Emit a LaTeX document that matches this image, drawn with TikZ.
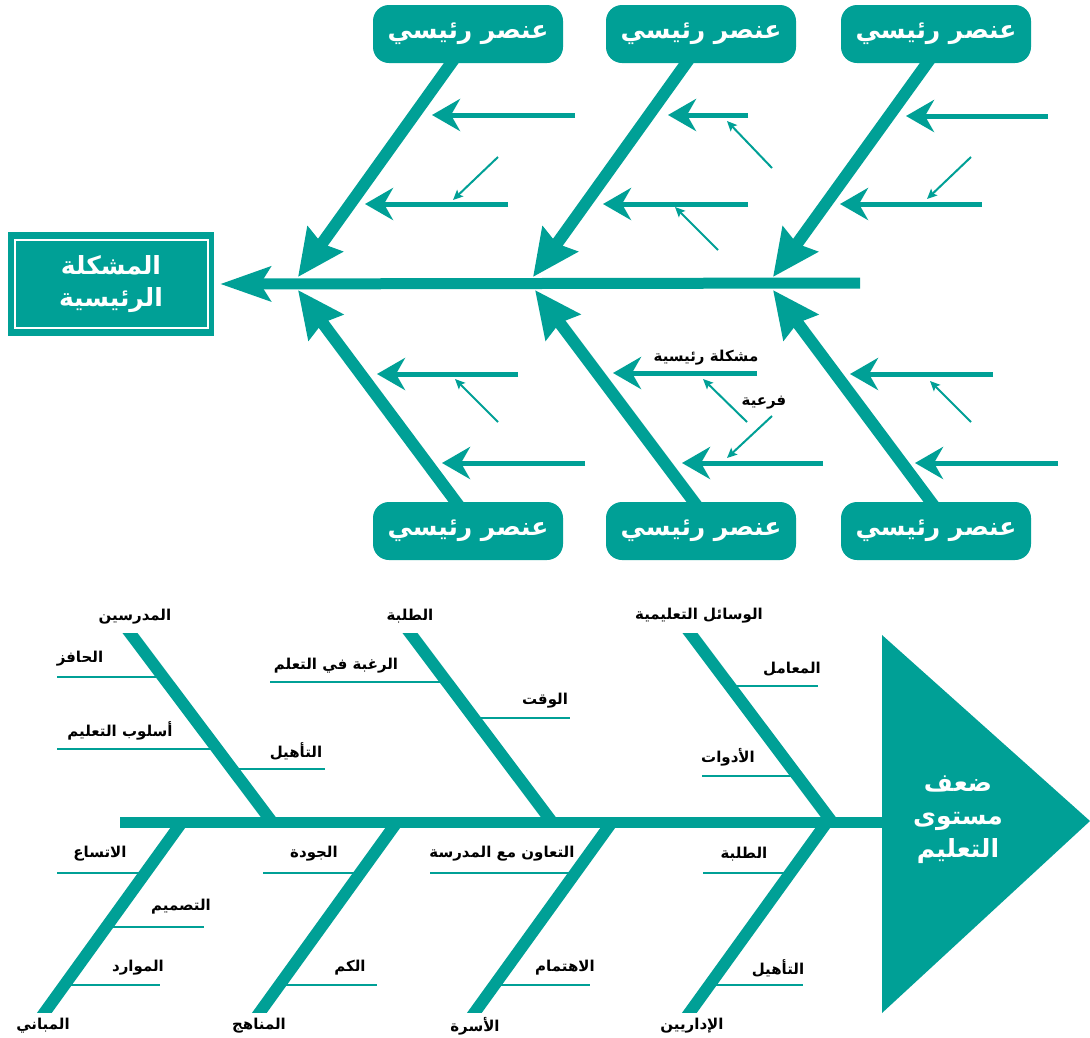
\documentclass[tikz,border=0pt]{standalone}
\usepackage{fontspec}
\newfontfamily\arabicfont[Script=Arabic]{DejaVu Sans}
\TeXXeTstate=1
\usetikzlibrary{arrows.meta}
\definecolor{fishteal}{RGB}{0,160,150}
\newcommand{\arTxt}[1]{\beginR #1\endR}
\begin{document}
\begin{tikzpicture}[x=1pt,y=-1pt,
  probbox/.style={fill=fishteal,minimum width=206pt,minimum height=104pt,inner sep=0pt,align=center,text=white,font=\arabicfont\bfseries\fontsize{25}{32}\selectfont},
  headbox/.style={fill=fishteal,rounded corners=16pt,minimum width=190pt,minimum height=58pt,inner sep=0pt,text=white,font=\arabicfont\bfseries\fontsize{25}{28}\selectfont},
  spine/.style={draw=fishteal,line width=11pt,-{Stealth[length=50pt,width=34pt,inset=10pt]},shorten >=6pt},
  bigrib/.style={draw=fishteal,line width=12pt,-{Stealth[length=46pt,width=42pt,inset=5pt]}},
  smallrib/.style={draw=fishteal,line width=5pt,-{Stealth[length=28pt,width=32pt,inset=9pt]}},
  thinrib/.style={draw=fishteal,line width=2pt,-{Stealth[length=10pt,width=9pt,inset=2pt]}},
  bspine/.style={draw=fishteal,line width=11pt},
  bone/.style={draw=fishteal,line width=12pt,shorten <=-12pt},
  twig/.style={draw=fishteal,line width=2.5pt},
  lbl/.style={inner sep=0pt,text=black,font=\arabicfont\bfseries\fontsize{15}{17}\selectfont},
  effectlbl/.style={inner sep=0pt,align=center,text=white,font=\arabicfont\bfseries\fontsize{25}{33}\selectfont}]
\path[use as bounding box] (0,0) rectangle (1090,1037);
\fill[white] (0,0) rectangle (1090,1037);

\node[probbox] (prob) at (111,284) {\arTxt{المشكلة}\\\arTxt{الرئيسية}};
\draw[white,line width=1.5pt] ([xshift=7pt,yshift=-8pt]prob.north west) rectangle ([xshift=-6pt,yshift=8pt]prob.south east);
\coordinate (spR) at (860,283);
\draw[spine] (spR) -- (prob.east);

\coordinate (a1) at (298,277);
\coordinate (a2) at (533,277);
\coordinate (a3) at (773,277);
\coordinate (c1) at (298,290);
\coordinate (c2) at (535,290);
\coordinate (c3) at (773,290);
\coordinate (u1s) at (457,55);
\coordinate (u2s) at (692,55);
\coordinate (u3s) at (933,55);
\coordinate (d1s) at (462,510);
\coordinate (d2s) at (700,510);
\coordinate (d3s) at (937,510);
\draw[bigrib] (u1s) -- (a1);
\draw[bigrib] (u2s) -- (a2);
\draw[bigrib] (u3s) -- (a3);
\draw[bigrib] (d1s) -- (c1);
\draw[bigrib] (d2s) -- (c2);
\draw[bigrib] (d3s) -- (c3);
\node[headbox] (u1) at (468,34) {\arTxt{عنصر رئيسي}};
\node[headbox] (u2) at (701,34) {\arTxt{عنصر رئيسي}};
\node[headbox] (u3) at (936,34) {\arTxt{عنصر رئيسي}};
\node[headbox] (d1) at (468,531) {\arTxt{عنصر رئيسي}};
\node[headbox] (d2) at (701,531) {\arTxt{عنصر رئيسي}};
\node[headbox] (d3) at (936,531) {\arTxt{عنصر رئيسي}};

\draw[smallrib] (575,115) -- (432,115);
\draw[smallrib] (508,204) -- (365,204);
\draw[thinrib] (498,157) -- (453,200);
\draw[smallrib] (748,115) -- (668,115);
\draw[smallrib] (748,204) -- (603,204);
\draw[thinrib] (772,168) -- (727,121);
\draw[thinrib] (718,250) -- (675,207);
\draw[smallrib] (1048,116) -- (906,116);
\draw[smallrib] (982,204) -- (840,204);
\draw[thinrib] (971,157) -- (927,199);

\draw[smallrib] (518,374) -- (377,374);
\draw[smallrib] (585,463) -- (442,463);
\draw[thinrib] (498,422) -- (455,379);
\draw[smallrib] (757,373) -- (613,373);
\draw[smallrib] (823,463) -- (682,463);
\draw[thinrib] (747,422) -- (703,379);
\draw[thinrib] (772,416) -- (727,458);
\node[lbl] (sub1) at (706,358) {\arTxt{مشكلة رئيسية}};
\node[lbl] (sub2) at (764,403) {\arTxt{فرعية}};
\draw[smallrib] (993,374) -- (850,374);
\draw[smallrib] (1058,463) -- (915,463);
\draw[thinrib] (971,422) -- (930,381);

\fill[fishteal] (882,635) -- (1090,821) -- (882,1013) -- cycle;
\node[effectlbl] (effect) at (958,820) {\arTxt{ضعف}\\\arTxt{مستوى}\\\arTxt{التعليم}};
\coordinate (tail) at (120,822);
\coordinate (head) at (884,822);
\draw[bspine] (tail) -- (head);

\begin{scope}
\clip (0,633) rectangle (882,1012);
\draw[bone] (130,633) -- (272,822);
\draw[bone] (410,633) -- (552,822);
\draw[bone] (690,633) -- (832,822);
\draw[bone] (45,1012) -- (182,822);
\draw[bone] (260,1012) -- (397,822);
\draw[bone] (475,1012) -- (612,822);
\draw[bone] (690,1012) -- (827,822);
\end{scope}

\node[lbl] (teachers) at (135,617) {\arTxt{المدرسين}};
\node[lbl] (students) at (410,616) {\arTxt{الطلبة}};
\node[lbl] (media) at (699,616) {\arTxt{الوسائل التعليمية}};
\node[lbl] (buildings) at (43,1026) {\arTxt{المباني}};
\node[lbl] (curricula) at (259,1026) {\arTxt{المناهج}};
\node[lbl] (family) at (475,1026) {\arTxt{الأسرة}};
\node[lbl] (admins) at (692,1026) {\arTxt{الإداريين}};

\draw[twig] (57,677) -- (163,677);
\node[lbl] (motive) at (80,659) {\arTxt{الحافز}};
\draw[twig] (57,749) -- (217,749);
\node[lbl] (method) at (120,731) {\arTxt{أسلوب التعليم}};
\draw[twig] (232,769) -- (325,769);
\node[lbl] (qualifyA) at (296,751) {\arTxt{التأهيل}};
\draw[twig] (270,682) -- (447,682);
\node[lbl] (desire) at (336,666) {\arTxt{الرغبة في التعلم}};
\draw[twig] (474,718) -- (570,718);
\node[lbl] (time) at (545,701) {\arTxt{الوقت}};
\draw[twig] (730,686) -- (818,686);
\node[lbl] (labs) at (792,669) {\arTxt{المعامل}};
\draw[twig] (702,776) -- (797,776);
\node[lbl] (tools) at (728,757) {\arTxt{الأدوات}};

\draw[twig] (57,873) -- (145,873);
\node[lbl] (space) at (100,854) {\arTxt{الاتساع}};
\draw[twig] (106,927) -- (204,927);
\node[lbl] (design) at (181,907) {\arTxt{التصميم}};
\draw[twig] (64,985) -- (160,985);
\node[lbl] (resources) at (138,968) {\arTxt{الموارد}};
\draw[twig] (263,873) -- (360,873);
\node[lbl] (quality) at (314,854) {\arTxt{الجودة}};
\draw[twig] (279,985) -- (377,985);
\node[lbl] (quantity) at (350,968) {\arTxt{الكم}};
\draw[twig] (430,873) -- (575,873);
\node[lbl] (coop) at (502,854) {\arTxt{التعاون مع المدرسة}};
\draw[twig] (494,985) -- (590,985);
\node[lbl] (care) at (565,968) {\arTxt{الاهتمام}};
\draw[twig] (703,873) -- (790,873);
\node[lbl] (studentsG) at (744,854) {\arTxt{الطلبة}};
\draw[twig] (709,985) -- (803,985);
\node[lbl] (qualifyG) at (778,968) {\arTxt{التأهيل}};
\end{tikzpicture}
\end{document}
